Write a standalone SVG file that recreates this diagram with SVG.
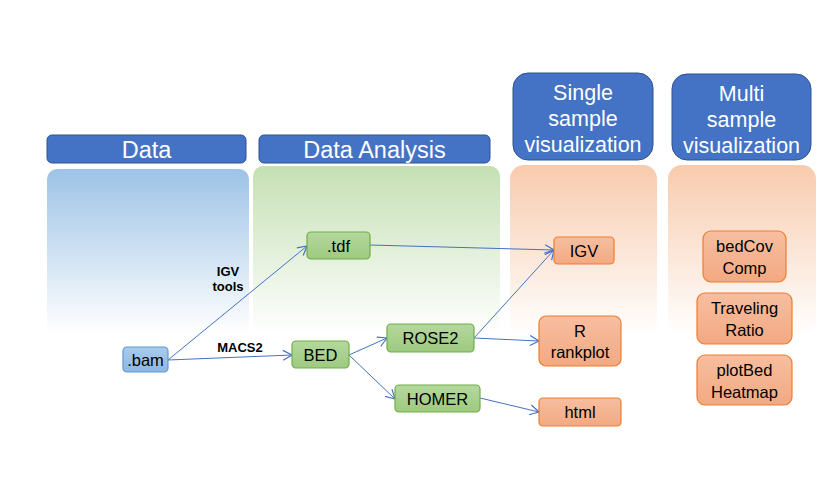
<svg xmlns="http://www.w3.org/2000/svg" width="840" height="479" viewBox="0 0 840 479">
<defs>
<linearGradient id="gBlue" x1="0" y1="0" x2="0" y2="1"><stop offset="0" stop-color="#9DC3E6"/><stop offset="1" stop-color="#FFFFFF"/></linearGradient>
<linearGradient id="gGreen" x1="0" y1="0" x2="0" y2="1"><stop offset="0" stop-color="#C5E0B4"/><stop offset="1" stop-color="#FFFFFF"/></linearGradient>
<linearGradient id="gOrange" x1="0" y1="0" x2="0" y2="1"><stop offset="0" stop-color="#F8CBAD"/><stop offset="1" stop-color="#FFFFFF"/></linearGradient>
<linearGradient id="nBlue" x1="0" y1="0" x2="0" y2="1"><stop offset="0" stop-color="#A9CBEA"/><stop offset="1" stop-color="#8DB8E2"/></linearGradient>
<linearGradient id="nGreen" x1="0" y1="0" x2="0" y2="1"><stop offset="0" stop-color="#B5D89D"/><stop offset="1" stop-color="#9DCA80"/></linearGradient>
<linearGradient id="nOrange" x1="0" y1="0" x2="0" y2="1"><stop offset="0" stop-color="#F7BEA0"/><stop offset="1" stop-color="#F3A981"/></linearGradient>
<marker id="arr" markerWidth="12" markerHeight="12" refX="10" refY="6" orient="auto" markerUnits="userSpaceOnUse">
<path d="M1,1 L10,6 L1,11" fill="none" stroke="#4472C4" stroke-width="1.2"/>
</marker>
</defs>
<style>
text{font-family:"Liberation Sans",Arial,sans-serif;}
.hdr{fill:#4472C4;stroke:#2F528F;stroke-width:1;}
.ht{fill:#FFFFFF;font-size:23.5px;text-anchor:middle;}
.ht2{fill:#FFFFFF;font-size:21.5px;text-anchor:middle;}
.nb{fill:url(#nBlue);stroke:#5B9BD5;stroke-width:1.2;}
.ng{fill:url(#nGreen);stroke:#70AD47;stroke-width:1.2;}
.no{fill:url(#nOrange);stroke:#ED7D31;stroke-width:1.2;}
.nt{fill:#000;font-size:16.5px;text-anchor:middle;}
.lbl{fill:#000;font-size:13px;font-weight:bold;text-anchor:middle;}
.c{fill:none;stroke:#4472C4;stroke-width:1;marker-end:url(#arr);}
</style>
<rect width="840" height="479" fill="#FFFFFF"/>
<g id="backgrounds">
<rect x="47" y="169" width="202" height="165" rx="10" fill="url(#gBlue)"/>
<rect x="253" y="166" width="247" height="168" rx="10" fill="url(#gGreen)"/>
<rect x="510" y="165" width="147" height="170" rx="14" fill="url(#gOrange)"/>
<rect x="668" y="165" width="148" height="170" rx="14" fill="url(#gOrange)"/>
</g>
<g id="hdr-data"><rect class="hdr" x="47" y="135" width="199" height="28" rx="5"/><text class="ht" x="146.5" y="158">Data</text></g>
<g id="hdr-analysis"><rect class="hdr" x="259" y="135" width="231" height="28" rx="5"/><text class="ht" x="374.5" y="158">Data Analysis</text></g>
<g id="hdr-single"><rect class="hdr" x="513" y="73" width="140" height="87" rx="15"/><text class="ht2" x="583" y="100">Single</text><text class="ht2" x="583" y="126">sample</text><text class="ht2" x="583" y="152">visualization</text></g>
<g id="hdr-multi"><rect class="hdr" x="672" y="74" width="139" height="86" rx="15"/><text class="ht2" x="741.5" y="101">Multi</text><text class="ht2" x="741.5" y="127">sample</text><text class="ht2" x="741.5" y="153">visualization</text></g>
<g id="connectors">
<line class="c" x1="168" y1="360" x2="307" y2="246"/>
<line class="c" x1="168" y1="360" x2="292" y2="355"/>
<line class="c" x1="370" y1="245" x2="554" y2="250"/>
<line class="c" x1="349" y1="355" x2="387" y2="338"/>
<line class="c" x1="349" y1="355" x2="395" y2="399"/>
<line class="c" x1="474" y1="338" x2="554" y2="250"/>
<line class="c" x1="474" y1="338" x2="539" y2="341"/>
<line class="c" x1="480" y1="398" x2="539" y2="412"/>
<text class="lbl" x="228" y="276">IGV</text>
<text class="lbl" x="228" y="291">tools</text>
<text class="lbl" x="240" y="352">MACS2</text>
</g>
<g id="n-bam"><rect class="nb" x="123" y="347" width="45" height="25" rx="4"/><text class="nt" x="145.5" y="365.5">.bam</text></g>
<g id="n-tdf"><rect class="ng" x="307" y="232" width="63" height="27" rx="4"/><text class="nt" x="338.5" y="251.5">.tdf</text></g>
<g id="n-bed"><rect class="ng" x="292" y="341" width="57" height="27" rx="4"/><text class="nt" x="320.5" y="360.5">BED</text></g>
<g id="n-rose2"><rect class="ng" x="387" y="324" width="87" height="28" rx="4"/><text class="nt" x="430.5" y="344">ROSE2</text></g>
<g id="n-homer"><rect class="ng" x="395" y="385" width="85" height="27" rx="4"/><text class="nt" x="437.5" y="404.5">HOMER</text></g>
<g id="n-igv"><rect class="no" x="554" y="237" width="60" height="27" rx="4"/><text class="nt" x="584" y="256.5">IGV</text></g>
<g id="n-rankplot"><rect class="no" x="539" y="316" width="82" height="50" rx="7"/><text class="nt" x="580" y="337">R</text><text class="nt" x="580" y="358">rankplot</text></g>
<g id="n-html"><rect class="no" x="539" y="398" width="82" height="28" rx="4"/><text class="nt" x="580" y="418">html</text></g>
<g id="n-bedcov"><rect class="no" x="703" y="231" width="83" height="51" rx="8"/><text class="nt" x="744.5" y="252">bedCov</text><text class="nt" x="744.5" y="274">Comp</text></g>
<g id="n-traveling"><rect class="no" x="697" y="293" width="95" height="51" rx="8"/><text class="nt" x="744.5" y="314">Traveling</text><text class="nt" x="744.5" y="336">Ratio</text></g>
<g id="n-plotbed"><rect class="no" x="697" y="355" width="95" height="50" rx="8"/><text class="nt" x="744.5" y="376">plotBed</text><text class="nt" x="744.5" y="398">Heatmap</text></g>
</svg>
